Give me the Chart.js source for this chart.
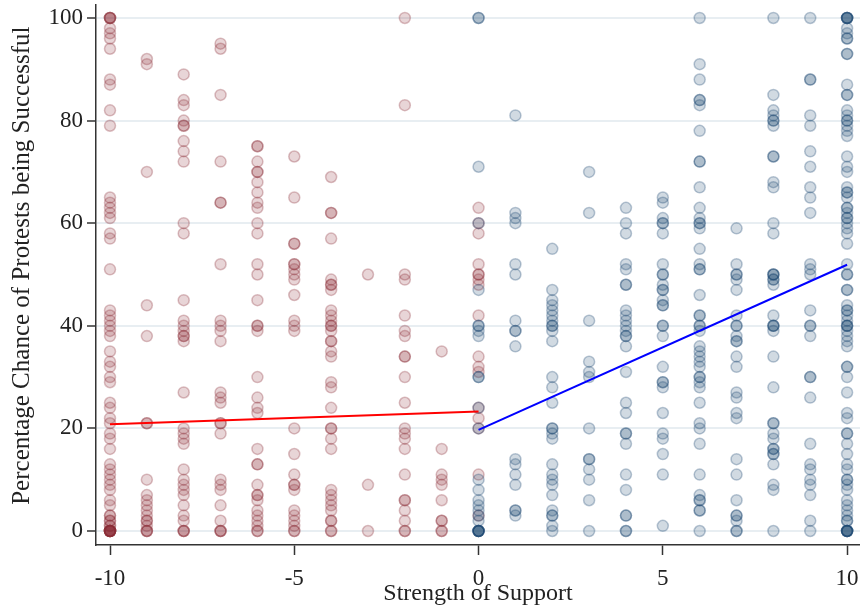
<!DOCTYPE html>
<html><head><meta charset="utf-8">
<script src="https://cdn.jsdelivr.net/npm/chart.js@4.4.1/dist/chart.umd.min.js"></script>
<style>html,body{margin:0;padding:0;background:#fff}</style>
</head><body>
<canvas id="c" width="860" height="610"></canvas>
<script>
// Axis ticks
const xTickValues = [-10, -5, 0, 5, 10];
const yTickValues = [0, 20, 40, 60, 80, 100];

// Opposing group (red), y values per support level
const redM10 = [100,100,100,100,98,97,96,94,88,87,82,79,65,64,63,62,61,58,57,51,43,42,41,40,39,38,35,33,32,30,29,25,24,22,21,19,18,16,13,12,11,10,9,8,6,5,3,3,2,2,1,1,0,0,0,0,0,0,0,0,0,0];
const redM9 = [92,91,70,44,38,21,21,10,7,6,5,4,3,2,2,1,0,0,0];
const redM8 = [89,84,83,80,79,79,76,74,72,60,58,45,41,40,39,38,38,37,27,20,19,18,17,12,10,9,8,7,5,3,2,0,0,0];
const redM7 = [95,94,85,72,64,64,52,41,40,39,37,27,26,25,21,21,19,10,9,8,5,2,0,0,0];
const redM6 = [75,75,72,70,70,68,66,64,63,60,58,52,50,45,40,40,39,30,26,24,23,16,13,13,9,7,7,6,4,3,2,1,0,0];
const redM5 = [73,65,56,56,52,52,51,50,49,46,41,40,39,20,15,11,9,9,8,4,3,2,1,0,0];
const redM4 = [69,62,62,57,49,48,48,47,43,42,41,40,40,39,37,37,35,34,29,28,24,20,20,18,16,8,7,6,5,4,2,2,0,0];
const redM3 = [50,9,0];
const redM2 = [100,83,50,49,42,39,38,34,34,30,25,20,19,18,16,11,6,6,4,2,0,0];
const redM1 = [35,16,11,10,9,6,2,2,0,0];
const red0 = [63,60,58,52,50,50,49,48,42,34,32,31,24,22,20,11,3];

// Supporting group (blue), y values per support level
const blue0 = [100,100,71,60,47,40,40,39,38,30,30,24,20,10,8,6,5,4,3,2,0,0,0,0,0,0];
const blue1 = [81,62,61,60,52,50,41,39,39,36,14,13,11,9,4,4,3];
const blue2 = [55,47,45,44,43,42,41,40,40,39,37,30,28,25,20,20,19,18,13,11,10,9,7,4,3,3,1,0];
const blue3 = [70,62,41,33,31,30,20,14,14,12,10,6,0];
const blue4 = [63,60,58,52,51,48,48,43,42,41,40,39,38,38,36,31,25,23,19,19,17,11,8,3,3,0,0];
const blue5 = [65,64,61,60,60,58,52,50,50,48,47,47,45,44,44,40,40,38,32,29,29,28,23,19,18,15,11,1];
const blue6 = [100,91,88,84,84,83,78,72,72,67,63,61,60,60,59,55,52,51,51,46,42,42,40,40,39,36,35,34,33,32,30,30,29,28,25,21,20,17,11,7,6,6,4,4,0];
const blue7 = [59,52,50,50,49,47,42,40,40,38,37,37,34,32,27,26,23,22,14,11,6,3,3,2,0,0];
const blue8 = [100,85,82,81,80,80,79,73,73,68,67,60,58,50,50,50,49,49,48,42,40,40,40,39,34,28,21,21,19,18,16,16,15,15,13,9,8,0];
const blue9 = [100,88,88,81,79,74,71,67,65,62,52,51,50,43,40,40,38,30,30,26,17,13,12,10,9,7,2,0];
const blue10 = [100,100,100,100,100,98,97,96,96,93,93,87,85,85,82,81,80,80,79,78,77,73,71,70,67,66,66,65,63,63,62,61,61,60,59,58,56,52,50,50,47,47,44,43,43,42,41,40,40,40,39,38,37,36,32,32,30,27,23,22,19,19,17,15,13,12,10,10,9,8,6,5,4,3,2,2,0,0,0,0,0,0];

// Fitted lines
const redFitX = [-10, 0];
const redFitY = [20.8, 23.3];
const blueFitX = [0, 10];
const blueFitY = [19.7, 51.9];

const redColumns = [[-10,redM10],[-9,redM9],[-8,redM8],[-7,redM7],[-6,redM6],[-5,redM5],[-4,redM4],[-3,redM3],[-2,redM2],[-1,redM1],[0,red0]];
const blueColumns = [[0,blue0],[1,blue1],[2,blue2],[3,blue3],[4,blue4],[5,blue5],[6,blue6],[7,blue7],[8,blue8],[9,blue9],[10,blue10]];

function toPoints(cols){
  const out = [];
  cols.forEach(([x, ys]) => ys.forEach(y => out.push({x: x, y: y})));
  return out;
}
function toLine(xs, ys){ return xs.map((x, i) => ({x: x, y: ys[i]})); }

const FONT = 'Liberation Serif';
const ctx = document.getElementById('c').getContext('2d');
new Chart(ctx, {
  type: 'scatter',
  data: {
    datasets: [
      {data: toLine(redFitX, redFitY), showLine: true, borderColor: '#ff0000', borderWidth: 2, pointRadius: 0, order: 0},
      {data: toLine(blueFitX, blueFitY), showLine: true, borderColor: '#0000ff', borderWidth: 2, pointRadius: 0, order: 0},
      {data: toPoints(redColumns), backgroundColor: 'rgba(140,45,55,0.2)', borderColor: 'rgba(140,45,55,0.3)', borderWidth: 1.5, pointRadius: 5.5, order: 2},
      {data: toPoints(blueColumns), backgroundColor: 'rgba(26,71,111,0.2)', borderColor: 'rgba(26,71,111,0.3)', borderWidth: 1.5, pointRadius: 5.5, order: 1}
    ]
  },
  options: {
    responsive: false,
    animation: false,
    events: [],
    layout: {autoPadding: false, padding: {top: 5, right: 0, left: 0, bottom: 0}},
    plugins: {legend: {display: false}, tooltip: {enabled: false}},
    scales: {
      x: {
        type: 'linear', min: -10.38, max: 10.35,
        afterBuildTicks: s => { s.ticks = xTickValues.map(v => ({value: v})); },
        afterFit: s => { s.height = 65; s.paddingLeft = 0; s.paddingRight = 0; },
        grid: {drawOnChartArea: false, drawTicks: true, tickLength: 10, tickColor: '#333', tickWidth: 1.5},
        border: {display: true, color: '#333', width: 1.5},
        ticks: {font: {family: FONT, size: 23}, color: '#222', padding: 10, maxRotation: 0, autoSkip: false, callback: v => String(v)},
        title: {display: true, text: 'Strength of Support', font: {family: FONT, size: 24}, color: '#222', padding: {top: 0, bottom: 2}}
      },
      y: {
        type: 'linear', min: -2.73, max: 102.53,
        afterBuildTicks: s => { s.ticks = yTickValues.map(v => ({value: v})); },
        afterFit: s => { s.width = 96; s.paddingTop = 0; s.paddingBottom = 0; },
        grid: {drawOnChartArea: true, color: '#e8eef2', lineWidth: 2, drawTicks: true, tickLength: 9, tickColor: '#333', tickWidth: 1.5},
        border: {display: true, color: '#333', width: 1.5},
        ticks: {font: {family: FONT, size: 23}, color: '#222', padding: 4, autoSkip: false, callback: v => String(v)},
        title: {display: true, text: '   Percentage Chance of Protests being Successful', font: {family: FONT, size: 25}, color: '#222', padding: {top: 7, bottom: 0}}
      }
    }
  }
});
</script>
</body></html>
